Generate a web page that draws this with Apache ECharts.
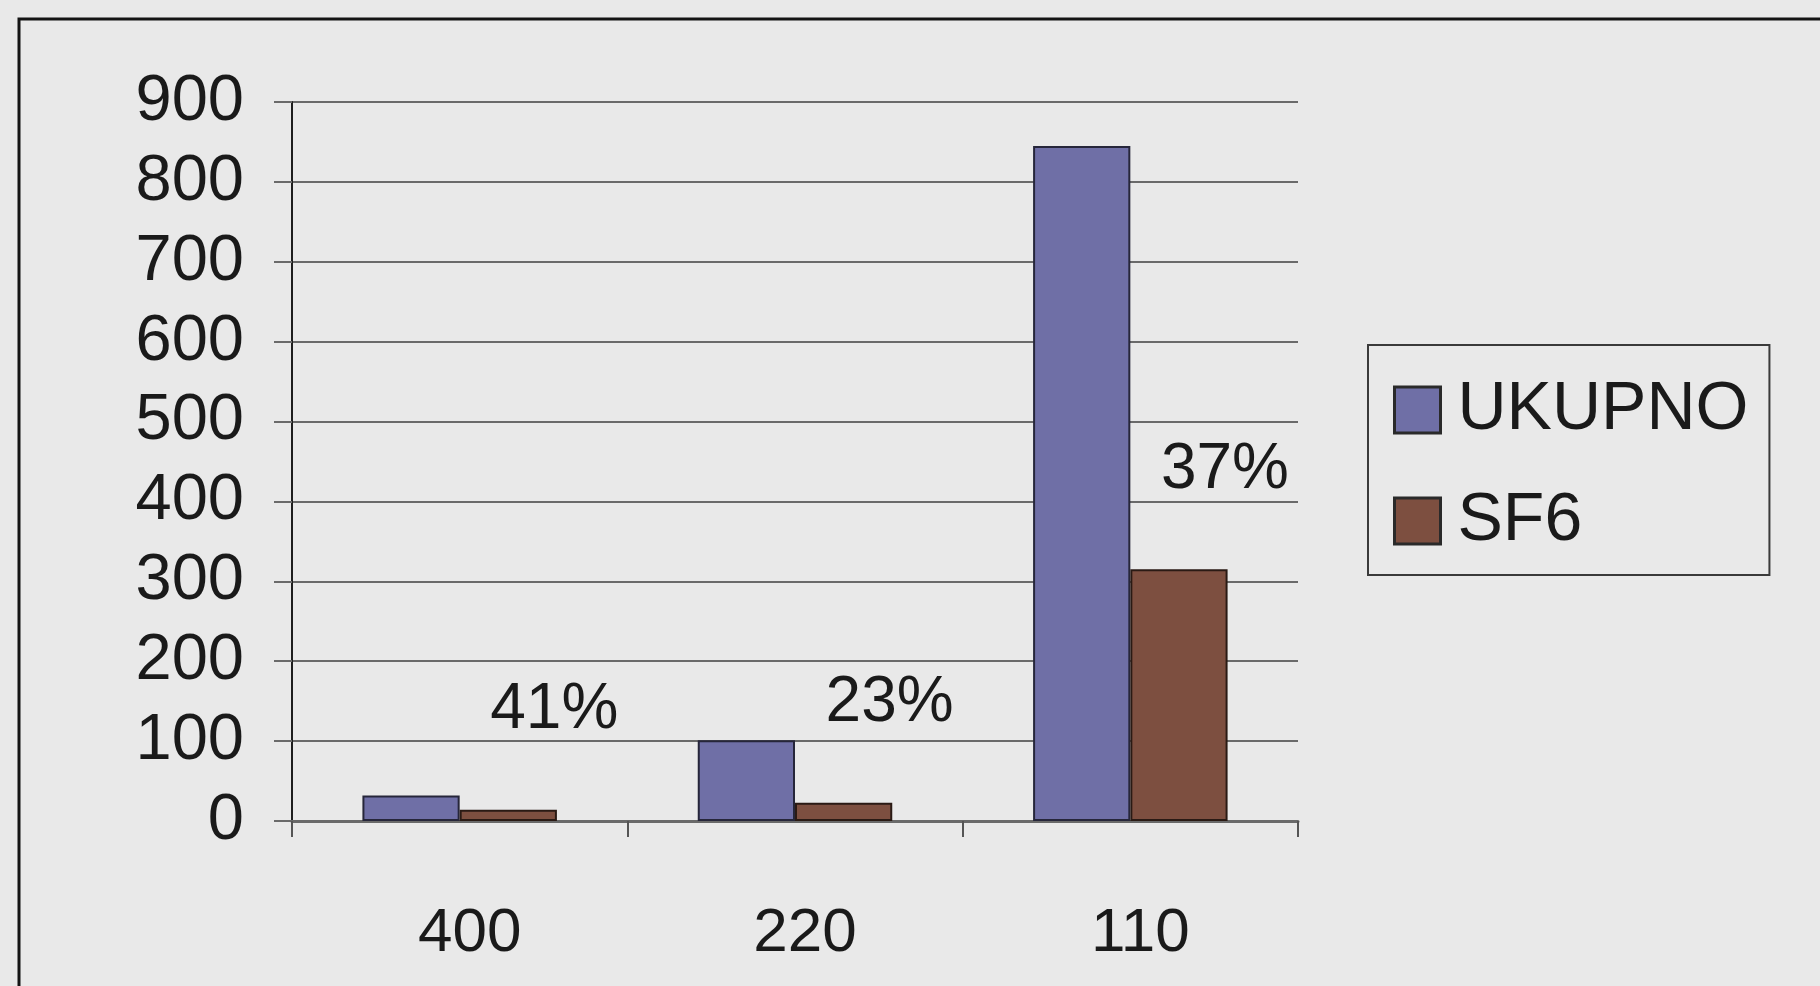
<!DOCTYPE html>
<html>
<head>
<meta charset="utf-8">
<script src="https://cdn.jsdelivr.net/npm/echarts@6/dist/echarts.min.js"></script>
<style>
html,body{margin:0;padding:0;background:#e9e9e9;}
#c{width:1820px;height:986px;}
</style>
</head>
<body>
<div id="c"></div>
<script>
const categories = ['400', '220', '110'];
const ukupno = [32, 101, 845];
const sf6 = [14, 23, 315];
const pctLabels = ['41%', '23%', '37%'];
const yTicks = { min: 0, max: 900, interval: 100 };

const FONT = '"Liberation Sans", Arial, sans-serif';
const chart = echarts.init(document.getElementById('c'), null, { renderer: 'canvas' });
chart.setOption({
  backgroundColor: '#e9e9e9',
  animation: false,
  graphic: [{
    type: 'rect', silent: true, z: 100,
    shape: { x: 19, y: 19, width: 1830, height: 1000 },
    style: { fill: 'none', stroke: '#141414', lineWidth: 3 }
  }],
  grid: { left: 292, right: 522, top: 102, bottom: 165 },
  legend: {
    orient: 'vertical', left: 1368, top: 345,
    padding: [30, 21, 19, 25],
    backgroundColor: '#e9e9e9',
    borderColor: '#3a3a3a', borderWidth: 2,
    itemWidth: 46, itemHeight: 46, itemGap: 41,
    icon: 'rect',
    itemStyle: { borderColor: '#2a2a2a', borderWidth: 3 },
    textStyle: { fontFamily: FONT, fontSize: 68, color: '#1a1a1a', lineHeight: 70, padding: [0, 0, 0, 12] },
    data: ['UKUPNO', 'SF6']
  },
  xAxis: {
    type: 'category', data: categories,
    axisLine: { show: true, lineStyle: { color: '#6a6a6a', width: 3 } },
    axisTick: { show: true, length: 16, lineStyle: { color: '#555', width: 2 } },
    axisLabel: { margin: 82, fontFamily: FONT, fontSize: 62, color: '#1a1a1a', padding: [0, 0, 0, 20] },
    splitLine: { show: false }
  },
  yAxis: {
    type: 'value', min: yTicks.min, max: yTicks.max, interval: yTicks.interval,
    axisLine: { show: true, lineStyle: { color: '#1e1e1e', width: 2 } },
    axisTick: { show: true, length: 18, lineStyle: { color: '#6a6a6a', width: 2 } },
    axisLabel: { margin: 48, fontFamily: FONT, fontSize: 65, color: '#1a1a1a', padding: [10, 0, 0, 0] },
    splitLine: { show: true, lineStyle: { color: '#6a6a6a', width: 2 } }
  },
  series: [
    {
      name: 'UKUPNO', type: 'bar', data: ukupno,
      barGap: '0%', barCategoryGap: '42%',
      itemStyle: { color: '#6f6fa6', borderColor: '#26263a', borderWidth: 2 }
    },
    {
      name: 'SF6', type: 'bar', data: sf6,
      barGap: '0%', barCategoryGap: '42%',
      itemStyle: { color: '#7d4f40', borderColor: '#2a1a14', borderWidth: 2 },
      label: {
        show: true, position: 'top', distance: 5, offset: [46, -62],
        fontFamily: FONT, fontSize: 64, color: '#1a1a1a',
        formatter: p => pctLabels[p.dataIndex]
      }
    }
  ]
});
</script>
</body>
</html>
